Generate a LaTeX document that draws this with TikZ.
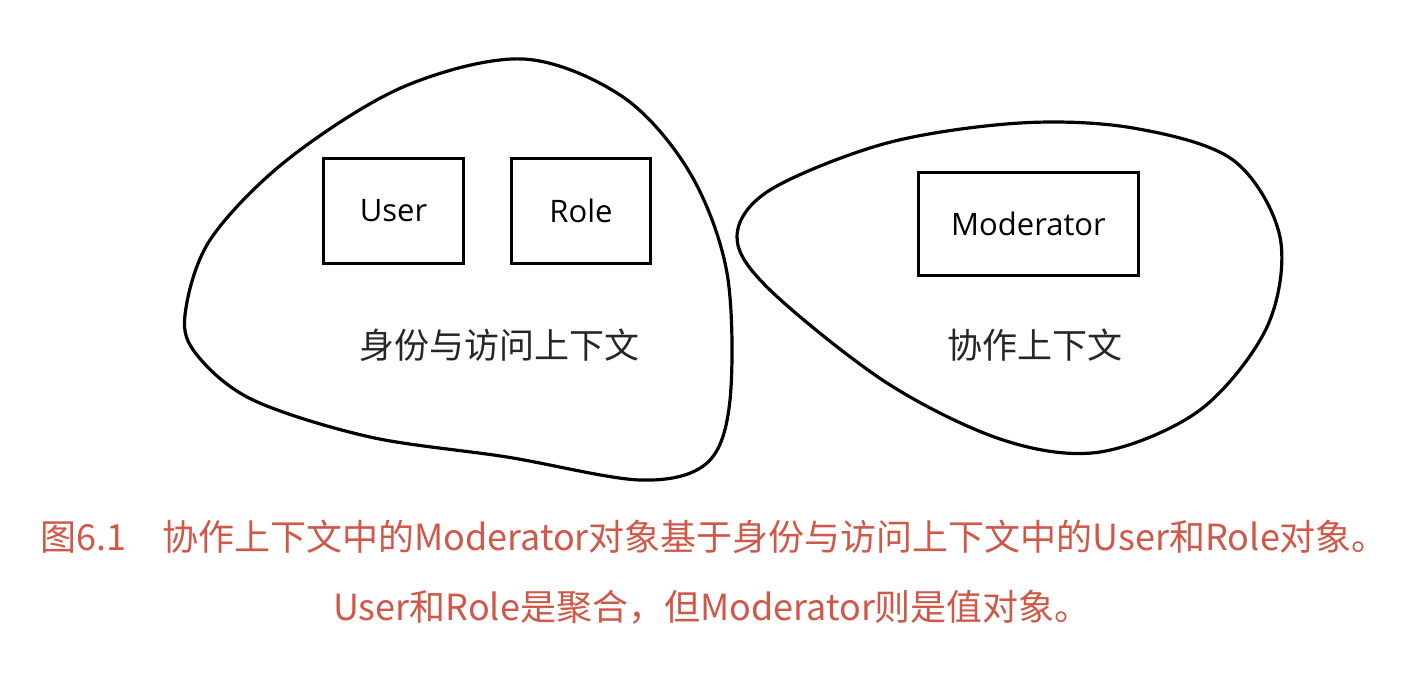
\documentclass[tikz,border=0pt]{standalone}
\usepackage{fontspec}
\newfontfamily\cjk{Noto Sans CJK SC}
\newfontfamily\lab{Open Sans}
\definecolor{capred}{RGB}{208,88,72}
\tikzset{
  blob/.style={draw=black, line width=3.2pt},
  objbox/.style={draw=black, line width=3.5pt, inner sep=0pt, font=\lab\fontsize{31}{36}\selectfont},
  ctxlabel/.style={inner sep=0pt, font=\cjk\fontsize{35}{40}\selectfont, text=black!85},
  caption/.style={inner sep=0pt, font=\cjk\fontsize{36}{40}\selectfont, text=capred}
}
\begin{document}
\begin{tikzpicture}[x=1pt,y=-1pt]
\useasboundingbox[fill=white] (0,0) rectangle (1416,672);
% left context
\draw[blob] plot[smooth cycle, tension=0.55] coordinates {
 (185,315) (210,240) (287,160) (403,87) (523,59) (623,97) (690,173)
 (727,273) (730,400) (707,463) (640,480) (507,457) (370,437) (253,400)
 (197,355)};
% right context
\draw[blob] plot[smooth cycle, tension=0.55] coordinates {
 (737,237) (770,190) (887,143) (1020,123) (1133,128) (1233,160) (1280,237)
 (1267,327) (1200,410) (1100,452) (1003,440) (887,383) (770,290)};
\node[objbox, minimum width=140pt, minimum height=105pt] (user) at (393.5,211) {User};
\node[objbox, minimum width=139pt, minimum height=105pt] (role) at (581,211) {Role};
\node[objbox, minimum width=220pt, minimum height=103pt] (mod) at (1028.5,224) {Moderator};
\node[ctxlabel] (idctx) at (499,345) {身份与访问上下文};
\node[ctxlabel] (colctx) at (1035,345) {协作上下文};
\node[caption] (cap1) at (714,537) {图6.1\hspace{36pt}协作上下文中的Moderator对象基于身份与访问上下文中的User和Role对象。};
\node[caption] (cap2) at (712,607) {User和Role是聚合，但Moderator则是值对象。};
\end{tikzpicture}
\end{document}
